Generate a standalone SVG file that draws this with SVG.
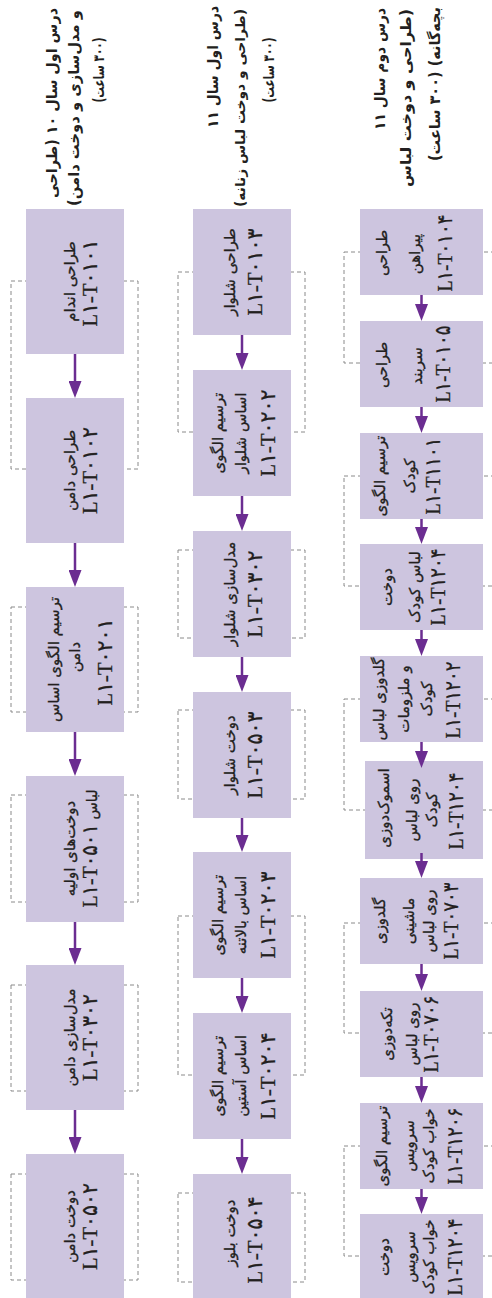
<svg xmlns="http://www.w3.org/2000/svg" width="492" height="1298" viewBox="0 0 492 1298">
<style>
.box{fill:#cdc5df}
.br{fill:none;stroke:#8a8a8a;stroke-width:1;stroke-dasharray:4 3}
.ar{stroke:#6b2d91;stroke-width:2.5;fill:none}
.f{font-family:"DejaVu Sans",sans-serif;font-size:15px;fill:#231f20;stroke:#231f20;stroke-width:0.3;direction:rtl;text-anchor:middle}
.c{font-family:"Liberation Serif","DejaVu Sans",serif;font-size:21px;fill:#231f20;stroke:#231f20;stroke-width:0.3;text-anchor:middle}
.cs{font-family:"Liberation Serif","DejaVu Sans",serif;font-size:21px}
.h{font-family:"DejaVu Sans",sans-serif;font-size:15px;font-weight:bold;fill:#231f20;direction:rtl;text-anchor:middle}
</style>
<defs>
<marker id="ah" viewBox="0 0 17 13" refX="0" refY="6.5" markerWidth="17" markerHeight="13" markerUnits="userSpaceOnUse" orient="auto">
<path d="M0,0 L17,6.5 L0,13 z" fill="#6b2d91"/>
</marker>
</defs>
<rect width="492" height="1298" fill="#ffffff"/>

<g id="headers">
<text class="h" transform="translate(57,103) rotate(-90)" textLength="190" lengthAdjust="spacingAndGlyphs">درس اول سال ۱۰ (طراحی</text>
<text class="h" transform="translate(79,108) rotate(-90)" textLength="196" lengthAdjust="spacingAndGlyphs">و مدل‌سازی و دوخت دامن)</text>
<text class="h" transform="translate(104,70) rotate(-90)" textLength="65" lengthAdjust="spacingAndGlyphs">(۳۰۰ ساعت)</text>
<text class="h" transform="translate(218,67) rotate(-90)" textLength="122" lengthAdjust="spacingAndGlyphs">درس اول سال ۱۱</text>
<text class="h" style="font-size:13.5px" transform="translate(245,108) rotate(-90)" textLength="198" lengthAdjust="spacingAndGlyphs">(طراحی و دوخت لباس زنانه)</text>
<text class="h" transform="translate(274,70) rotate(-90)" textLength="65" lengthAdjust="spacingAndGlyphs">(۳۰۰ ساعت)</text>
<text class="h" transform="translate(385,69) rotate(-90)" textLength="122" lengthAdjust="spacingAndGlyphs">درس دوم سال ۱۱</text>
<text class="h" transform="translate(411,98) rotate(-90)" textLength="178" lengthAdjust="spacingAndGlyphs">(طراحی و دوخت لباس</text>
<text class="h" transform="translate(440,84) rotate(-90)" textLength="154" lengthAdjust="spacingAndGlyphs">بچه‌گانه) (۳۰۰ ساعت)</text>
</g>

<g id="brackets">
<rect class="br" x="11" y="281" width="127" height="188"/>
<rect class="br" x="11" y="607" width="127" height="105"/>
<rect class="br" x="11" y="795" width="127" height="107"/>
<rect class="br" x="11" y="985" width="127" height="106"/>
<rect class="br" x="11" y="1174" width="127" height="106"/>
<rect class="br" x="178" y="272" width="127" height="160"/>
<rect class="br" x="178" y="550" width="127" height="88"/>
<rect class="br" x="178" y="710" width="127" height="89"/>
<rect class="br" x="178" y="916" width="127" height="159"/>
<rect class="br" x="178" y="1193" width="127" height="89"/>
<rect class="br" x="344" y="252" width="152" height="111"/>
<rect class="br" x="344" y="476" width="152" height="110"/>
<rect class="br" x="344" y="699" width="152" height="111"/>
<rect class="br" x="344" y="923" width="152" height="110"/>
<rect class="br" x="344" y="1146" width="152" height="110"/>
</g>

<g id="n1-1"><rect class="box" x="26" y="209" width="98" height="145"/>
<text class="f" transform="translate(75,281.5) rotate(-90)">طراحی اندام</text>
<text class="c" transform="translate(97,283) rotate(-90)" textLength="87" lengthAdjust="spacingAndGlyphs">L۱-T۰۱۰۱</text></g>
<g id="n1-2"><rect class="box" x="26" y="398" width="98" height="145"/>
<text class="f" transform="translate(75,470.5) rotate(-90)">طراحی دامن</text>
<text class="c" transform="translate(97,470.5) rotate(-90)" textLength="87" lengthAdjust="spacingAndGlyphs">L۱-T۰۱۰۲</text></g>
<g id="n1-3"><rect class="box" x="26" y="587" width="98" height="145"/>
<text class="f" transform="translate(59,659.5) rotate(-90)">ترسیم الگوی اساس</text>
<text class="f" transform="translate(80,657) rotate(-90)">دامن</text>
<text class="c" transform="translate(112,662) rotate(-90)" textLength="87" lengthAdjust="spacingAndGlyphs">L۱-T۰۲۰۱</text></g>
<g id="n1-4"><rect class="box" x="26" y="776" width="98" height="146"/>
<text class="f" transform="translate(75,848.5) rotate(-90)">دوخت‌های اولیه</text>
<text class="f" transform="translate(97,848.5) rotate(-90)" textLength="118" lengthAdjust="spacingAndGlyphs">لباس <tspan class="cs">L۱-T۰۵۰۱</tspan></text></g>
<g id="n1-5"><rect class="box" x="26" y="965" width="98" height="145"/>
<text class="f" transform="translate(75,1037.5) rotate(-90)">مدل‌سازی دامن</text>
<text class="c" transform="translate(97,1037.5) rotate(-90)" textLength="87" lengthAdjust="spacingAndGlyphs">L۱-T۰۳۰۲</text></g>
<g id="n1-6"><rect class="box" x="26" y="1154" width="98" height="146"/>
<text class="f" transform="translate(75,1226.5) rotate(-90)">دوخت دامن</text>
<text class="c" transform="translate(97,1226.5) rotate(-90)" textLength="87" lengthAdjust="spacingAndGlyphs">L۱-T۰۵۰۲</text></g>

<g id="n2-1"><rect class="box" x="193" y="209" width="98" height="126"/>
<text class="f" transform="translate(235,272) rotate(-90)">طراحی شلوار</text>
<text class="c" transform="translate(262,272) rotate(-90)" textLength="87" lengthAdjust="spacingAndGlyphs">L۱-T۰۱۰۳</text></g>
<g id="n2-2"><rect class="box" x="193" y="370" width="98" height="126"/>
<text class="f" transform="translate(223,433) rotate(-90)">ترسیم الگوی</text>
<text class="f" transform="translate(246,433) rotate(-90)">اساس شلوار</text>
<text class="c" transform="translate(275,433) rotate(-90)" textLength="87" lengthAdjust="spacingAndGlyphs">L۱-T۰۲۰۲</text></g>
<g id="n2-3"><rect class="box" x="193" y="531" width="98" height="126"/>
<text class="f" transform="translate(235,594) rotate(-90)">مدل‌سازی شلوار</text>
<text class="c" transform="translate(262,594) rotate(-90)" textLength="87" lengthAdjust="spacingAndGlyphs">L۱-T۰۳۰۲</text></g>
<g id="n2-4"><rect class="box" x="193" y="692" width="98" height="126"/>
<text class="f" transform="translate(235,755) rotate(-90)">دوخت شلوار</text>
<text class="c" transform="translate(262,755) rotate(-90)" textLength="87" lengthAdjust="spacingAndGlyphs">L۱-T۰۵۰۳</text></g>
<g id="n2-5"><rect class="box" x="193" y="852" width="98" height="126"/>
<text class="f" transform="translate(223,915) rotate(-90)">ترسیم الگوی</text>
<text class="f" transform="translate(246,915) rotate(-90)">اساس بالاتنه</text>
<text class="c" transform="translate(275,915) rotate(-90)" textLength="87" lengthAdjust="spacingAndGlyphs">L۱-T۰۲۰۳</text></g>
<g id="n2-6"><rect class="box" x="193" y="1013" width="98" height="126"/>
<text class="f" transform="translate(223,1076) rotate(-90)">ترسیم الگوی</text>
<text class="f" transform="translate(246,1076) rotate(-90)">اساس آستین</text>
<text class="c" transform="translate(275,1076) rotate(-90)" textLength="87" lengthAdjust="spacingAndGlyphs">L۱-T۰۲۰۴</text></g>
<g id="n2-7"><rect class="box" x="193" y="1174" width="98" height="126"/>
<text class="f" transform="translate(235,1233) rotate(-90)">دوخت بلوز</text>
<text class="c" transform="translate(262,1240) rotate(-90)" textLength="87" lengthAdjust="spacingAndGlyphs">L۱-T۰۵۰۴</text></g>

<g id="n3-1"><rect class="box" x="360" y="209" width="123" height="86"/>
<text class="f" transform="translate(387,253) rotate(-90)">طراحی</text>
<text class="f" transform="translate(420,254) rotate(-90)">پیراهن</text>
<text class="c" transform="translate(452,253) rotate(-90)" textLength="77" lengthAdjust="spacingAndGlyphs">L۱-T۰۱۰۴</text></g>
<g id="n3-2"><rect class="box" x="360" y="321" width="123" height="86"/>
<text class="f" transform="translate(387,365) rotate(-90)">طراحی</text>
<text class="f" transform="translate(422,366) rotate(-90)">سربند</text>
<text class="c" transform="translate(450,364) rotate(-90)" textLength="77" lengthAdjust="spacingAndGlyphs">L۱-T۰۱۰۵</text></g>
<g id="n3-3"><rect class="box" x="360" y="433" width="123" height="86"/>
<text class="f" transform="translate(385,476) rotate(-90)">ترسیم الگوی</text>
<text class="f" transform="translate(415,476) rotate(-90)">کودک</text>
<text class="c" transform="translate(440,476) rotate(-90)" textLength="77" lengthAdjust="spacingAndGlyphs">L۱-T۱۱۰۱</text></g>
<g id="n3-4"><rect class="box" x="360" y="544" width="123" height="86"/>
<text class="f" transform="translate(392,587) rotate(-90)">دوخت</text>
<text class="f" transform="translate(420,587) rotate(-90)">لباس کودک</text>
<text class="c" transform="translate(445,587) rotate(-90)" textLength="77" lengthAdjust="spacingAndGlyphs">L۱-T۱۲۰۴</text></g>
<g id="n3-5"><rect class="box" x="360" y="656" width="123" height="86"/>
<text class="f" transform="translate(384,699) rotate(-90)">گلدوزی لباس</text>
<text class="f" transform="translate(409,699) rotate(-90)">و ملزومات</text>
<text class="f" transform="translate(432,699) rotate(-90)">کودک</text>
<text class="c" transform="translate(460,700) rotate(-90)" textLength="77" lengthAdjust="spacingAndGlyphs">L۱-T۱۲۰۲</text></g>
<g id="n3-6"><rect class="box" x="365" y="761" width="118" height="98"/>
<text class="f" transform="translate(389,808) rotate(-90)">اسموک‌دوزی</text>
<text class="f" transform="translate(417,810) rotate(-90)">روی لباس</text>
<text class="f" transform="translate(437,810) rotate(-90)">کودک</text>
<text class="c" transform="translate(463,811) rotate(-90)" textLength="77" lengthAdjust="spacingAndGlyphs">L۱-T۱۲۰۴</text></g>
<g id="n3-7"><rect class="box" x="360" y="878" width="123" height="86"/>
<text class="f" transform="translate(385,921) rotate(-90)">گلدوزی</text>
<text class="f" transform="translate(414,921) rotate(-90)">ماشینی</text>
<text class="f" transform="translate(434,921) rotate(-90)">روی لباس</text>
<text class="c" transform="translate(458,921) rotate(-90)" textLength="77" lengthAdjust="spacingAndGlyphs">L۱-T۰۷۰۳</text></g>
<g id="n3-8"><rect class="box" x="360" y="991" width="123" height="86"/>
<text class="f" transform="translate(392,1034) rotate(-90)">تکه‌دوزی</text>
<text class="f" transform="translate(417,1034) rotate(-90)">روی لباس</text>
<text class="c" transform="translate(438,1034) rotate(-90)" textLength="77" lengthAdjust="spacingAndGlyphs">L۱-T۰۷۰۶</text></g>
<g id="n3-9"><rect class="box" x="360" y="1103" width="123" height="86"/>
<text class="f" transform="translate(387,1146) rotate(-90)">ترسیم الگوی</text>
<text class="f" transform="translate(414,1146) rotate(-90)">سرویس</text>
<text class="f" transform="translate(434,1146) rotate(-90)">خواب کودک</text>
<text class="c" transform="translate(462,1146) rotate(-90)" textLength="77" lengthAdjust="spacingAndGlyphs">L۱-T۱۲۰۶</text></g>
<g id="n3-10"><rect class="box" x="360" y="1214" width="123" height="86"/>
<text class="f" transform="translate(389,1257) rotate(-90)">دوخت</text>
<text class="f" transform="translate(415,1257) rotate(-90)">سرویس</text>
<text class="f" transform="translate(434,1257) rotate(-90)">خواب کودک</text>
<text class="c" transform="translate(462,1257) rotate(-90)" textLength="77" lengthAdjust="spacingAndGlyphs">L۱-T۱۲۰۴</text></g>

<g id="connectors">
<line class="ar" x1="75" y1="354" x2="75" y2="381" marker-end="url(#ah)"/>
<line class="ar" x1="75" y1="543" x2="75" y2="570" marker-end="url(#ah)"/>
<line class="ar" x1="75" y1="732" x2="75" y2="759" marker-end="url(#ah)"/>
<line class="ar" x1="75" y1="922" x2="75" y2="948" marker-end="url(#ah)"/>
<line class="ar" x1="75" y1="1110" x2="75" y2="1137" marker-end="url(#ah)"/>
<line class="ar" x1="242" y1="335" x2="242" y2="353" marker-end="url(#ah)"/>
<line class="ar" x1="242" y1="496" x2="242" y2="514" marker-end="url(#ah)"/>
<line class="ar" x1="242" y1="657" x2="242" y2="675" marker-end="url(#ah)"/>
<line class="ar" x1="242" y1="818" x2="242" y2="835" marker-end="url(#ah)"/>
<line class="ar" x1="242" y1="978" x2="242" y2="996" marker-end="url(#ah)"/>
<line class="ar" x1="242" y1="1139" x2="242" y2="1157" marker-end="url(#ah)"/>
<line class="ar" x1="421.5" y1="295" x2="421.5" y2="304" marker-end="url(#ah)"/>
<line class="ar" x1="421.5" y1="407" x2="421.5" y2="416" marker-end="url(#ah)"/>
<line class="ar" x1="421.5" y1="519" x2="421.5" y2="527" marker-end="url(#ah)"/>
<line class="ar" x1="421.5" y1="630" x2="421.5" y2="639" marker-end="url(#ah)"/>
<line class="ar" x1="421.5" y1="742" x2="421.5" y2="751" marker-end="url(#ah)"/>
<line class="ar" x1="421.5" y1="853" x2="421.5" y2="861" marker-end="url(#ah)"/>
<line class="ar" x1="421.5" y1="964" x2="421.5" y2="974" marker-end="url(#ah)"/>
<line class="ar" x1="421.5" y1="1077" x2="421.5" y2="1086" marker-end="url(#ah)"/>
<line class="ar" x1="421.5" y1="1189" x2="421.5" y2="1197" marker-end="url(#ah)"/>
</g>
</svg>
